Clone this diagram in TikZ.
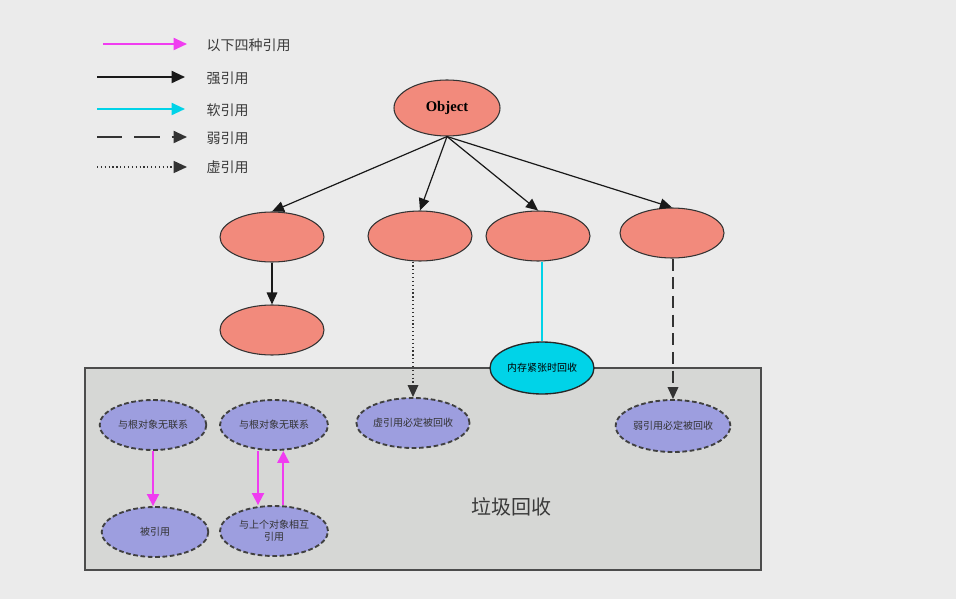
\documentclass[tikz,border=0pt]{standalone}
\usepackage{fontspec}
\setmainfont{Liberation Serif}
\newfontfamily\cjk{Noto Sans CJK SC}
\usetikzlibrary{arrows.meta, shapes.geometric}

\definecolor{salmon}{HTML}{F28A7C}
\definecolor{lavender}{HTML}{9D9EDF}
\definecolor{softcyan}{HTML}{00D3E8}
\definecolor{pinkline}{HTML}{F03CF0}
\definecolor{bggray}{HTML}{EBEBEB}
\definecolor{boxgray}{HTML}{D6D7D5}
\definecolor{txtgray}{HTML}{3A3A3A}

\begin{document}
\begin{tikzpicture}[
        x=0.75pt, y=-0.75pt,
        refnode/.style={draw=black!80, ellipse, fill=salmon, line width=0.8pt,
                        minimum width=78pt, minimum height=37.5pt, inner sep=0pt},
        gcnode/.style={draw=black!75, ellipse, fill=lavender, line width=1.4pt,
                       dash pattern=on 3.5pt off 2pt, minimum width=80pt, minimum height=37.5pt,
                       inner sep=0pt, align=center, font=\cjk\fontsize{7.5}{9}\selectfont, text=black!80},
        tip/.style={-{Triangle[length=9pt,width=8pt]}},
        strongref/.style={tip, color=black!90, line width=0.9pt},
        softref/.style={color=softcyan, line width=1.1pt},
        weakref/.style={tip, color=black!80, line width=1pt, dash pattern=on 9pt off 5pt},
        phantomref/.style={tip, color=black!80, line width=0.9pt, dotted},
        mutualref/.style={-{Triangle[length=9pt,width=9pt]}, color=pinkline, line width=1.4pt},
        legtext/.style={anchor=west, font=\cjk\fontsize{10.5}{12}\selectfont, text=txtgray}
    ]
    \fill[bggray] (0,0) rectangle (956,599);
    \useasboundingbox (0,0) rectangle (956,599);

    % legend
    \coordinate (la1) at (103,44);  \coordinate (lb1) at (187,44);
    \coordinate (la2) at (97,77);   \coordinate (lb2) at (185,77);
    \coordinate (la3) at (97,109);  \coordinate (lb3) at (185,109);
    \coordinate (la4) at (97,137);  \coordinate (lb4) at (187,137);
    \coordinate (la5) at (97,167);  \coordinate (lb5) at (187,167);
    \node[legtext] (t1) at (202,45) {以下四种引用};
    \node[legtext] (t2) at (202,78) {强引用};
    \node[legtext] (t3) at (202,110) {软引用};
    \node[legtext] (t4) at (202,138) {弱引用};
    \node[legtext] (t5) at (202,167) {虚引用};
    \draw[mutualref, -{Triangle[length=10pt,width=9pt]}] (la1) -- (lb1);
    \draw[strongref, line width=1.4pt, -{Triangle[length=10pt,width=9pt]}] (la2) -- (lb2);
    \draw[softref, line width=1.4pt, -{Triangle[length=10pt,width=9pt]}] (la3) -- (lb3);
    \draw[weakref, line width=1.4pt, dash pattern=on 19pt off 9pt, -{Triangle[length=10pt,width=9pt]}] (la4) -- (lb4);
    \draw[phantomref, line width=1.1pt, -{Triangle[length=10pt,width=9pt]}] (la5) -- (lb5);

    % garbage collection area
    \draw[fill=boxgray, draw=black!70, line width=1.2pt] (85,368) rectangle (761,570);
    \node[font=\cjk\fontsize{15}{18}\selectfont, text=txtgray] (gc) at (511,507) {垃圾回收};

    % reference tree
    \node[refnode, minimum width=79.5pt, minimum height=42pt, font=\bfseries\fontsize{11}{13}\selectfont]
        (obj) at (447,108) {Object};
    \node[refnode] (s1) at (272,237) {};
    \node[refnode] (s2) at (272,330) {};
    \node[refnode] (ph) at (420,236) {};
    \node[refnode] (so) at (538,236) {};
    \node[refnode] (wk) at (672,233) {};

    \node[draw=black!85, ellipse, fill=softcyan, line width=1pt, minimum width=78pt,
          minimum height=39pt, inner sep=0pt, font=\cjk\fontsize{7.5}{9}\selectfont]
        (mem) at (542,368) {内存紧张时回收};
    \node[gcnode, minimum width=82pt] (phgc) at (413,423) {虚引用必定被回收};
    \node[gcnode, minimum width=86pt, minimum height=39pt] (wkgc) at (673,426) {弱引用必定被回收};
    \node[gcnode] (u1) at (153,425) {与根对象无联系};
    \node[gcnode, minimum width=81pt] (u2) at (274,425) {与根对象无联系};
    \node[gcnode] (r1) at (155,532) {被引用};
    \node[gcnode, minimum width=81pt] (r2) at (274,531) {与上个对象相互\\引用};

    \draw[strongref] (obj.south) -- (s1.north);
    \draw[strongref] (obj.south) -- (ph.north);
    \draw[strongref] (obj.south) -- (so.north);
    \draw[strongref] (obj.south) -- (wk.north);
    \draw[strongref] (s1) -- (s2);
    \draw[phantomref] (ph.south -| phgc.north) -- (phgc.north);
    \draw[softref] (so.south -| mem.north) -- (mem.north);
    \draw[weakref] (wk.south -| wkgc.north) -- (wkgc.north);

    \draw[mutualref] (u1.south) -- (u1.south |- r1.north);
    \draw[mutualref] ([xshift=-12pt]u2.south) -- ([xshift=-12pt]u2.south |- r2.north);
    \draw[mutualref] ([xshift=7pt]r2.north) -- ([xshift=7pt]r2.north |- u2.south);
\end{tikzpicture}
\end{document}
